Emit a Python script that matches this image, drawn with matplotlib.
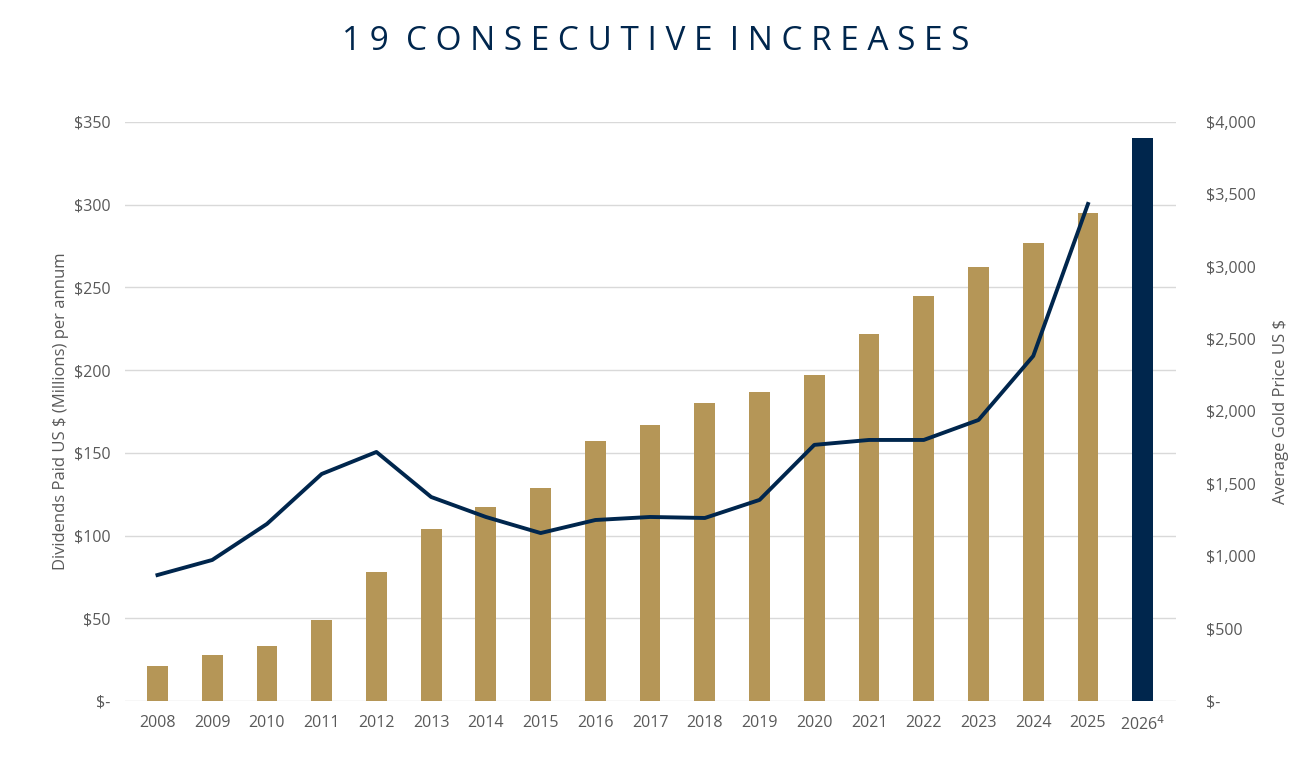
import matplotlib
matplotlib.use("Agg")
import matplotlib.pyplot as plt
import numpy as np

years = ["2008","2009","2010","2011","2012","2013","2014","2015","2016","2017",
         "2018","2019","2020","2021","2022","2023","2024","2025","2026$^4$"]
dividends = [21,28,33,49,78,104,117,129,157,167,180,187,197,222,245,262,277,295,340]
gold = [870,974,1223,1568,1720,1409,1271,1160,1250,1271,1264,1389,1769,1803,1803,1941,2383,3433]
left_ticks = [0,50,100,150,200,250,300,350]
left_labels = ["$-","$50","$100","$150","$200","$250","$300","$350"]
right_ticks = [0,500,1000,1500,2000,2500,3000,3500,4000]
right_labels = ["$-","$500","$1,000","$1,500","$2,000","$2,500","$3,000","$3,500","$4,000"]

plt.rcParams['font.family'] = ['Open Sans', 'DejaVu Sans']
GOLD = "#B59657"; NAVY = "#00264D"; GREY = "#595959"

fig = plt.figure(figsize=(13.12, 7.57), dpi=100)
ax = fig.add_axes([0.095, 0.074, 0.801, 0.765])
x = np.arange(len(years))
colors = [GOLD]*(len(years)-1) + [NAVY]
ax.bar(x, dividends, width=0.38, color=colors, zorder=3)
ax.set_ylim(0, 350)
ax.set_xlim(-0.6, len(years)-0.4)
ax.set_yticks(left_ticks)
ax.set_yticklabels(left_labels)
ax.set_xticks(x)
ax.set_xticklabels(years)
ax.grid(axis='y', color='#D9D9D9', lw=1, zorder=0)
for s in ax.spines.values():
    s.set_visible(False)
ax.tick_params(length=0, colors=GREY, labelsize=11.5, pad=10)
ax.set_ylabel("Dividends Paid US $ (Millions) per annum", color=GREY, fontsize=12)

ax2 = ax.twinx()
ax2.plot(x[:len(gold)], gold, color=NAVY, lw=2.8, zorder=4)
ax2.set_ylim(0, 4000)
ax2.set_yticks(right_ticks)
ax2.set_yticklabels(right_labels)
for s in ax2.spines.values():
    s.set_visible(False)
ax2.tick_params(length=0, colors=GREY, labelsize=11.5, pad=22)
ax2.set_ylabel("Average Gold Price US $", color=GREY, fontsize=12, labelpad=12)

fig.text(0.5, 0.945, "1 9   C O N S E C U T I V E   I N C R E A S E S".replace("  ", " "),
         ha='center', va='center', fontsize=24, color=NAVY)
fig.savefig("out.png", dpi=100)
